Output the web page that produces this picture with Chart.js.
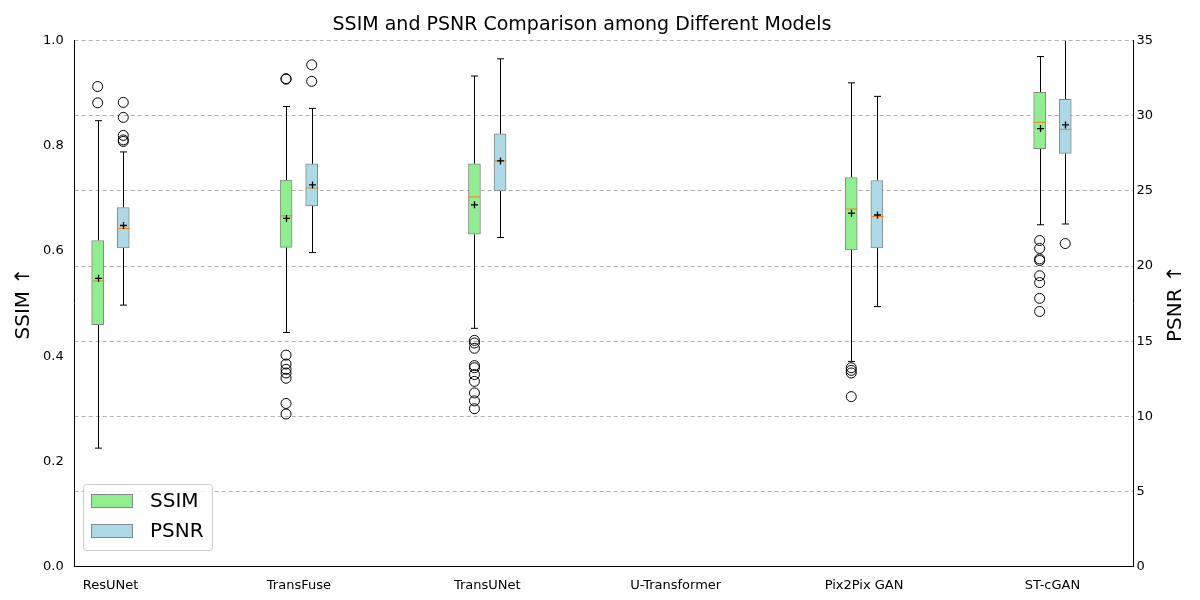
<!DOCTYPE html>
<html><head><meta charset="utf-8">
<script src="https://cdn.jsdelivr.net/npm/chart.js@4"></script>
<style>body{margin:0;background:#fff}#w{width:1200px;height:600px}</style>
</head><body><div id="w"><canvas id="c"></canvas></div>
<script>
const categories=["ResUNet","TransFuse","TransUNet","U-Transformer","Pix2Pix GAN","ST-cGAN"];
// [low whisker, q1, median, q3, high whisker, mean] or null
const ssimStats=[[0.225,0.46,0.543,0.62,0.848,0.548],[0.445,0.607,0.667,0.735,0.875,0.662],[0.453,0.632,0.703,0.766,0.933,0.688],null,[0.39,0.602,0.68,0.74,0.92,0.672],[0.65,0.795,0.845,0.902,0.97,0.833]];
const psnrStats=[[17.4,21.2,22.5,23.9,27.6,22.7],[20.9,24.0,25.2,26.8,30.5,25.4],[21.9,25.0,27.0,28.8,33.8,27.0],null,[17.3,21.2,23.3,25.7,31.3,23.4],[22.8,27.5,29.1,31.1,35.5,29.4]];
const ssimOutliers=[[0.882,0.913],[0.927,0.928,0.29,0.31,0.358,0.368,0.375,0.385,0.402],[0.3,0.315,0.33,0.352,0.365,0.378,0.382,0.415,0.425,0.43],[],[0.323,0.368,0.373,0.378],[0.485,0.51,0.54,0.553,0.582,0.585,0.605,0.62]];
const psnrOutliers=[[28.3,28.4,28.7,29.9,30.9],[32.3,33.4],[],[],[],[21.5]];
const OFF=0.068;
const pos=(i,s)=>i+1+s*OFF;
function boxes(st,s){return st.map((v,i)=>v?{x:pos(i,s),y:[v[1],v[3]]}:null).filter(Boolean);}
function outs(o,s){const r=[];o.forEach((a,i)=>a.forEach(v=>r.push({x:pos(i,s),y:v})));return r;}
function means(st,s){return st.map((v,i)=>v?{x:pos(i,s),y:v[5]}:null).filter(Boolean);}
const boxPlug={id:'bp',
 beforeDatasetsDraw(ch){draw(ch,false)},afterDatasetsDraw(ch){draw(ch,true)},
 afterDraw(ch){legend(ch);rtitle(ch)}};
function draw(ch,after){
 const x=ch.scales.x,ca=ch.chartArea,c=ch.ctx;
 c.save();c.beginPath();c.rect(ca.left,ca.top,ca.right-ca.left,ca.bottom-ca.top);c.clip();
 [[ssimStats,-1,ch.scales.y],[psnrStats,1,ch.scales.y1]].forEach(([st,s,ys])=>{
  st.forEach((v,i)=>{if(!v)return;const px=Math.round(x.getPixelForValue(pos(i,s)))+0.5;
   if(!after){c.strokeStyle='#000';c.lineWidth=1;c.beginPath();
    c.moveTo(px,ys.getPixelForValue(v[0]));c.lineTo(px,ys.getPixelForValue(v[1]));
    c.moveTo(px,ys.getPixelForValue(v[3]));c.lineTo(px,ys.getPixelForValue(v[4]));c.stroke();}
   else{c.strokeStyle='#000';c.lineWidth=1;c.beginPath();
    [v[0],v[4]].forEach(w=>{const py=ys.getPixelForValue(w);c.moveTo(px-3.5,py);c.lineTo(px+3.5,py);});c.stroke();
    c.strokeStyle='#ff7f0e';c.beginPath();const m=ys.getPixelForValue(v[2]);c.moveTo(px-6,m);c.lineTo(px+6,m);c.stroke();
    const mp=ys.getPixelForValue(v[5]);c.strokeStyle='#000';c.lineWidth=1.3;c.beginPath();
    c.moveTo(px-3.5,mp);c.lineTo(px+3.5,mp);c.moveTo(px,mp-3.5);c.lineTo(px,mp+3.5);c.stroke();}
  });});
 c.restore();}
function rtitle(ch){const c=ch.ctx,ca=ch.chartArea;c.save();
 c.translate(1176,(ca.top+ca.bottom)/2);c.rotate(-Math.PI/2);c.fillStyle='#000';
 c.font='20px "DejaVu Sans"';c.textAlign='center';c.textBaseline='middle';c.fillText('PSNR ↑',0,0);c.restore();}
function legend(ch){const c=ch.ctx;c.save();
 c.fillStyle='rgba(255,255,255,0.8)';c.strokeStyle='#ccc';c.lineWidth=1;
 c.beginPath();c.roundRect(83.5,484.5,129,66,3);c.fill();c.stroke();
 [['SSIM','#90ee90',494],['PSNR','#add8e6',524]].forEach(([t,col,y])=>{
  c.fillStyle=col;c.fillRect(91,y,42,14);c.strokeStyle='#888';c.strokeRect(91.5,y+0.5,41,13);
  c.fillStyle='#000';c.font='20px "DejaVu Sans"';c.textBaseline='middle';c.fillText(t,150,y+8);});
 c.restore();}
const ptSt={type:'scatter',pointStyle:'circle',pointRadius:5,pointBackgroundColor:'rgba(0,0,0,0)',pointBorderColor:'#000',pointBorderWidth:1};
new Chart(document.getElementById('c'),{type:'bar',
 data:{datasets:[
  {label:'SSIM',data:boxes(ssimStats,-1),yAxisID:'y',backgroundColor:'#90ee90',borderColor:'#888',borderWidth:1,barThickness:12,borderSkipped:false,grouped:false},
  {label:'PSNR',data:boxes(psnrStats,1),yAxisID:'y1',backgroundColor:'#add8e6',borderColor:'#888',borderWidth:1,barThickness:12,borderSkipped:false,grouped:false},
  Object.assign({data:outs(ssimOutliers,-1),yAxisID:'y'},ptSt),
  Object.assign({data:outs(psnrOutliers,1),yAxisID:'y1'},ptSt)]},
 options:{responsive:true,maintainAspectRatio:false,animation:false,
  layout:{padding:{left:8,right:44,top:8,bottom:4}},
  plugins:{legend:{display:false},tooltip:{enabled:false},
   title:{display:true,text:'SSIM and PSNR Comparison among Different Models',font:{size:19,family:'DejaVu Sans',weight:'normal'},color:'#000',padding:{top:6,bottom:4}}},
  scales:{
   x:{type:'linear',min:0.81,max:6.43,offset:false,grid:{display:false},border:{color:'#000'},
    afterBuildTicks:a=>{a.ticks=categories.map((_,i)=>({value:i+1}))},
    ticks:{color:'#000',font:{size:13,family:'DejaVu Sans'},callback:v=>categories[v-1]||''}},
   y:{min:0,max:1,position:'left',grid:{display:false},border:{color:'#000'},
    ticks:{stepSize:0.2,color:'#000',font:{size:13,family:'DejaVu Sans'},callback:v=>v.toFixed(1)},
    title:{display:true,text:'SSIM ↑',color:'#000',font:{size:20,family:'DejaVu Sans'}}},
   y1:{min:0,max:35,position:'right',border:{color:'#000',dash:[4,3]},
    grid:{color:'#b0b0b0',drawTicks:false},
    ticks:{stepSize:5,color:'#000',font:{size:13,family:'DejaVu Sans'}}}}},
 plugins:[boxPlug]});
</script></body></html>
